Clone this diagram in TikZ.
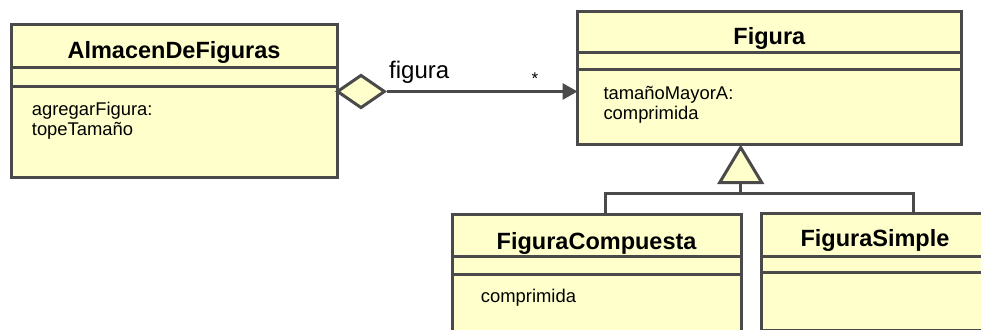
\documentclass[tikz,border=0pt]{standalone}
\usepackage{fontspec}
\setmainfont{Liberation Sans}
\usetikzlibrary{arrows.meta,shapes.geometric,positioning}
\definecolor{classfill}{HTML}{FFFFCC}
\definecolor{umlgray}{HTML}{4A4A4A}

\begin{document}
\begin{tikzpicture}[x=1pt,y=-1pt,
    classbox/.style={draw=umlgray, fill=classfill, line width=3pt, inner sep=0pt, outer sep=0pt, anchor=north west},
    classname/.style={font=\bfseries\fontsize{23.5}{28}\selectfont, anchor=base, inner sep=0pt},
    members/.style={font=\fontsize{18.4}{20.5}\selectfont, align=left, anchor=base west, inner sep=0pt},
    umlline/.style={draw=umlgray, line width=3pt},
]
    \useasboundingbox (0,0) rectangle (981,329);
    \clip (0,0) rectangle (981,329);
    % Classes
    \node[classbox, minimum width=326pt, minimum height=152.5pt] (almacen) at (11,24.5) {};
    \node[classbox, minimum width=383.5pt, minimum height=132.7pt] (figura) at (577.5,12) {};
    \node[classbox, minimum width=288.5pt, minimum height=140pt] (compuesta) at (452.5,214.7) {};
    \node[classbox, minimum width=228pt, minimum height=117pt] (simple) at (761,213) {};
    % Compartments
    \draw[umlline] (11,67.5) -- (337,67.5) (11,86.7) -- (337,86.7);
    \draw[umlline] (577.5,53) -- (961,53) (577.5,69.7) -- (961,69.7);
    \draw[umlline] (452.5,256) -- (741,256) (452.5,274.7) -- (741,274.7);
    \draw[umlline] (761,256) -- (989,256) (761,272.5) -- (989,272.5);
    % Names
    \node[classname] (almacenname) at (174,58.5) {AlmacenDeFiguras};
    \node[classname] (figuraname) at (769.3,45) {Figura};
    \node[classname] (compuestaname) at (596.6,249.3) {FiguraCompuesta};
    \node[classname] (simplename) at (875,246) {FiguraSimple};
    % Operations (base is the last line)
    \node[members] (almacenops) at (31.7,135.5) {agregarFigura:\\topeTamaño};
    \node[members] (figuraops) at (603.3,119.8) {tamañoMayorA:\\comprimida};
    \node[members] (compuestaops) at (480.7,302.7) {comprimida};
    % Aggregation
    \node[diamond, draw=umlgray, fill=classfill, line width=3pt, minimum width=48pt,
        minimum height=33.4pt, inner sep=0pt] (agg) at (361,91.5) {};
    \draw[umlline, -{Triangle[length=15pt,width=16pt]}] (agg.east) -- (agg.east -| figura.west);
    \node[font=\fontsize{24}{28}\selectfont, anchor=base west, inner sep=0pt] (role) at (389,78.3) {figura};
    \node[font=\fontsize{17}{20}\selectfont, anchor=base, inner sep=0pt] (mult) at (535,84.5) {*};
    % Generalization
    \coordinate (apex) at (740.7,147.5);
    \coordinate (fork) at (740.7,193);
    \draw[umlline, fill=classfill] (apex) -- ++(-21,35) -- ++(42,0) -- cycle;
    \draw[umlline] (apex) ++(0,35) -- (fork);
    \draw[umlline] ([xshift=153pt]compuesta.north west) |- (fork) -| ([xshift=152pt]simple.north west);
\end{tikzpicture}
\end{document}
